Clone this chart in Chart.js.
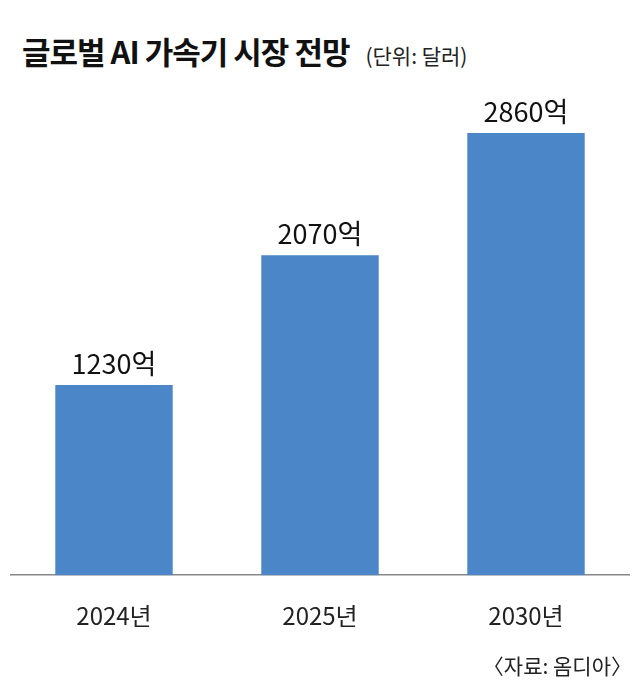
<!DOCTYPE html>
<html><head><meta charset="utf-8">
<script src="https://cdn.jsdelivr.net/npm/chart.js@4"></script>
<style>
body{margin:0;background:#fff;font-family:"Noto Sans CJK KR","Noto Sans",sans-serif;}
#wrap{position:relative;width:640px;height:696px;}
#title{position:absolute;left:22px;top:28px;font-size:31px;font-weight:bold;letter-spacing:-1px;color:#111;}
#title span{font-size:21px;font-weight:normal;margin-left:16px;color:#222;letter-spacing:0;}
#src{position:absolute;right:8px;top:650px;font-size:21px;color:#222;}
canvas{position:absolute;left:0;top:0;}
</style></head><body>
<div id="wrap">
<div id="title">글로벌 AI 가속기 시장 전망<span>(단위: 달러)</span></div>
<canvas id="myChart" width="640" height="696"></canvas>
<div id="src">〈자료: 옴디아〉</div>
</div>
<script>
const years = ['2024년', '2025년', '2030년'];
const market = [1230, 2070, 2860];
const valueLabels = ['1230억', '2070억', '2860억'];

const barLabels = {
    id: 'barLabels',
    afterDatasetsDraw(chart) {
        const ctx = chart.ctx;
        ctx.save();
        ctx.font = '27px "Noto Sans CJK KR"';
        ctx.fillStyle = '#111';
        ctx.textAlign = 'center';
        ctx.textBaseline = 'bottom';
        chart.getDatasetMeta(0).data.forEach((bar, i) => {
            ctx.fillText(valueLabels[i], bar.x, bar.y - 8);
        });
        ctx.restore();
    }
};

new Chart(document.getElementById('myChart'), {
    type: 'bar',
    data: {
        labels: years,
        datasets: [{ data: market, backgroundColor: '#4a86c8', barPercentage: 0.57, categoryPercentage: 1 }]
    },
    options: {
        responsive: false,
        animation: false,
        layout: { padding: { top: 65, bottom: 48, left: 11, right: 11 } },
        plugins: { legend: { display: false }, tooltip: { enabled: false } },
        scales: {
            y: { display: false, min: 0, max: 3300 },
            x: {
                grid: { display: false },
                border: { color: '#888', width: 1.5 },
                ticks: { color: '#222', font: { size: 24, family: 'Noto Sans CJK KR' }, padding: 18 }
            }
        }
    },
    plugins: [barLabels]
});
</script>
</body></html>
